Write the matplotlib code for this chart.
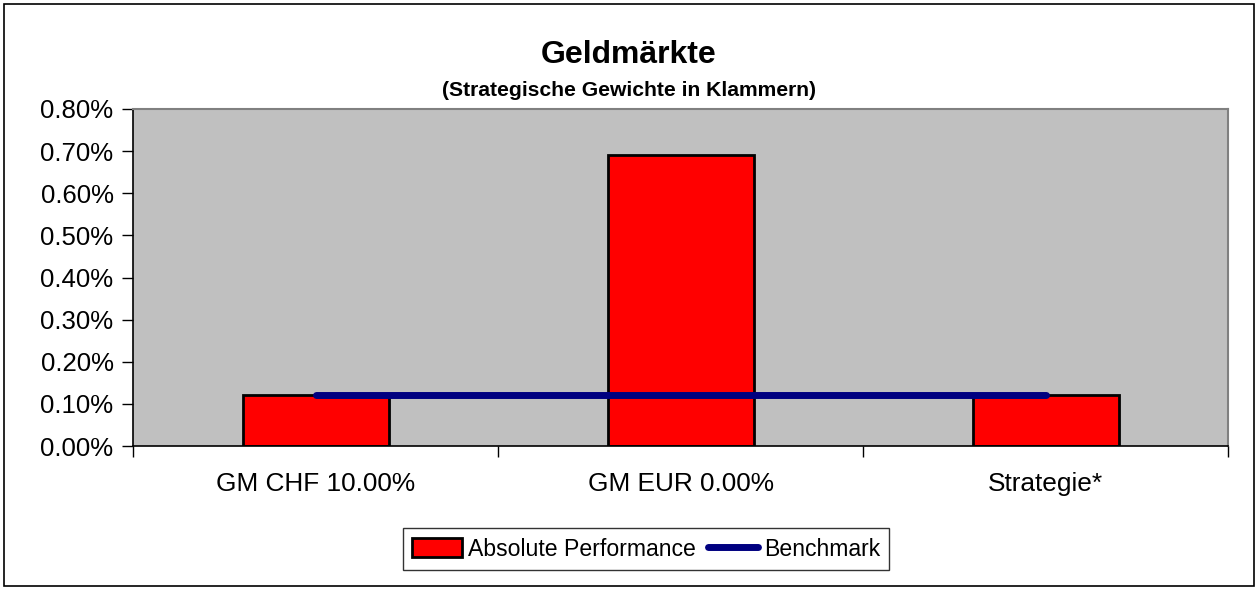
import numpy as np
import matplotlib
matplotlib.use("Agg")
from matplotlib import pyplot as plt
from matplotlib.patches import Rectangle
from matplotlib.ticker import FuncFormatter, FixedLocator

plt.rcParams['font.family'] = ['Liberation Sans', 'DejaVu Sans']

# data
categories = ["GM CHF 10.00%", "GM EUR 0.00%", "Strategie*"]
absolute_perf = [0.12, 0.69, 0.12]   # in %
benchmark = [0.12, 0.12, 0.12]       # in %
y_ticks = [0.0, 0.1, 0.2, 0.3, 0.4, 0.5, 0.6, 0.7, 0.8]

fig = plt.figure(figsize=(12.58, 5.90), dpi=100)
# outer chart border
fig.patches.append(Rectangle((4 / 1258, 4 / 590), 1250 / 1258, 582 / 590,
                             transform=fig.transFigure, fill=False,
                             edgecolor="black", linewidth=1.2))

ax = fig.add_axes([133 / 1258, 144 / 590, 1095 / 1258, 337 / 590])
ax.set_facecolor("#C0C0C0")

x = np.arange(len(categories))
bars = ax.bar(x, absolute_perf, width=0.4, color="#FF0000", edgecolor="black",
              linewidth=2, label="Absolute Performance", zorder=2)
line, = ax.plot(x, benchmark, color="#000080", linewidth=5, solid_capstyle="round",
                label="Benchmark", zorder=3)

ax.set_xlim(-0.5, len(categories) - 0.5)
ax.set_ylim(0, 0.8)
ax.set_yticks(y_ticks)
ax.yaxis.set_major_formatter(FuncFormatter(lambda v, p: "%.2f%%" % v))
ax.set_xticks(x)
ax.set_xticklabels(categories)
ax.xaxis.set_minor_locator(FixedLocator(np.arange(-0.5, len(categories), 1.0)))
ax.tick_params(axis="x", which="major", length=0, pad=19, labelsize=18.9)
ax.tick_params(axis="x", which="minor", length=8, width=1, direction="out")
ax.tick_params(axis="y", length=8, width=1, direction="out", labelsize=18.5, pad=6)

for s in ["left", "bottom"]:
    ax.spines[s].set_color("black")
    ax.spines[s].set_linewidth(1.2)
for s in ["top", "right"]:
    ax.spines[s].set_color("#808080")
    ax.spines[s].set_linewidth(1.5)

fig.text(0.5, 1 - 55 / 590, "Geldmärkte", ha="center", va="center",
         fontsize=23, fontweight="bold")
fig.text(0.5, 1 - 90 / 590, "(Strategische Gewichte in Klammern)", ha="center",
         va="center", fontsize=15.2, fontweight="bold")

leg = fig.legend([bars, line], ["Absolute Performance", "Benchmark"],
                 loc="center", bbox_to_anchor=(646 / 1258, 1 - 549 / 590),
                 ncol=2, frameon=True, fancybox=False, edgecolor="black",
                 fontsize=16.6, handlelength=2.2, handleheight=0.9,
                 handletextpad=0.25, columnspacing=0.5, borderpad=0.4,
                 borderaxespad=0)
leg.get_frame().set_linewidth(1)

fig.savefig("out.png", dpi=100)
